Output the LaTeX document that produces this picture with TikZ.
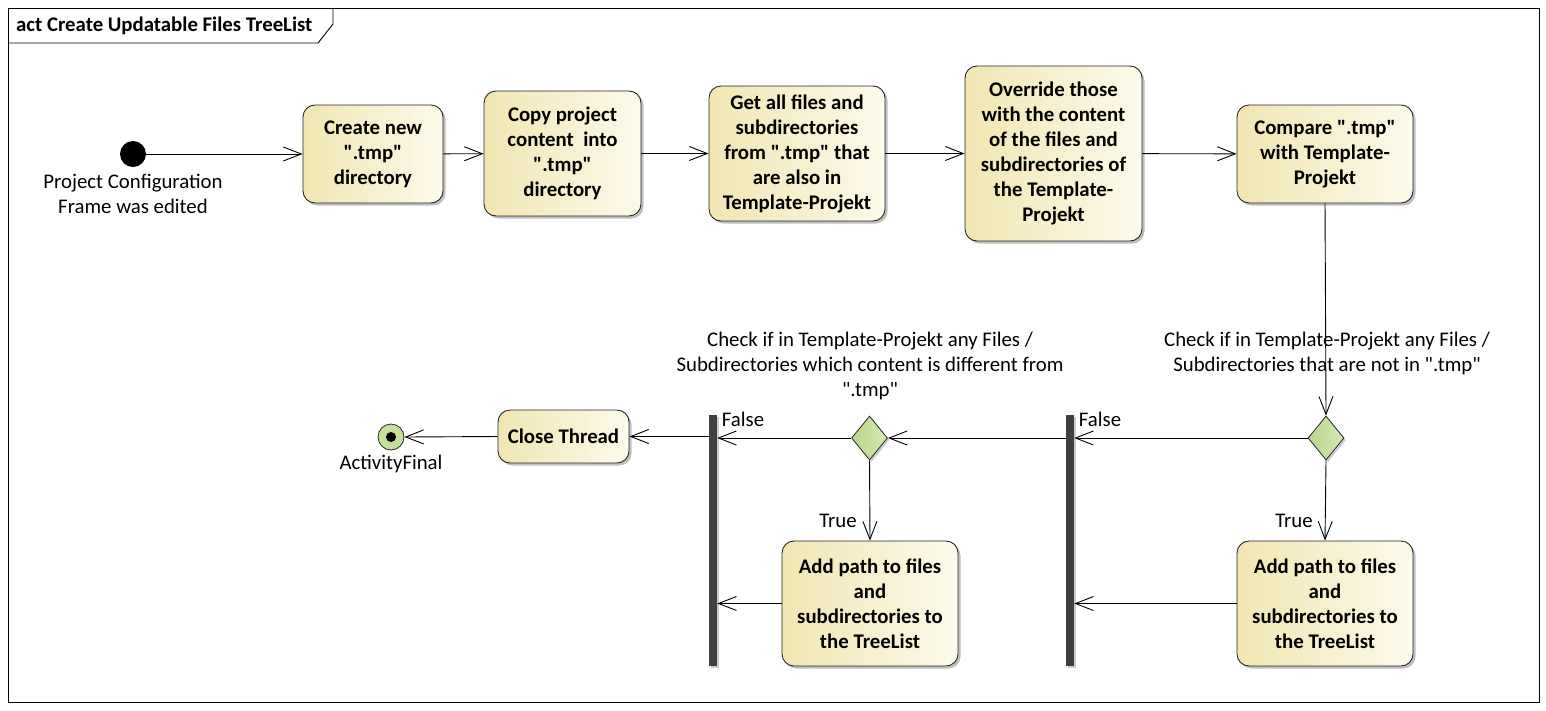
\documentclass[tikz,border=0pt]{standalone}
\usepackage{fontspec}
\setmainfont{Carlito}
\newfontfamily\carl{Carlito}
\usetikzlibrary{arrows.meta,shapes.geometric,shadows}
\definecolor{boxL}{RGB}{241,230,178}
\definecolor{boxR}{RGB}{252,250,235}
\definecolor{dmdL}{RGB}{186,213,138}
\definecolor{dmdR}{RGB}{214,232,180}
\definecolor{finalG}{RGB}{196,222,156}
\definecolor{barC}{RGB}{64,64,64}
\tikzset{
  act/.style={draw=black!85, line width=0.9pt, rounded corners=12pt, left color=boxL, right color=boxR,
    align=center, inner sep=0pt, font=\carl\bfseries\fontsize{20.8}{25}\selectfont,
    drop shadow={shadow xshift=2.5pt, shadow yshift=-2.5pt, opacity=0.25, fill=black}},
  dmd/.style={diamond, draw=black!85, line width=0.8pt, left color=dmdL, right color=dmdR, inner sep=0pt,
    minimum width=36pt, minimum height=44pt, aspect=0.8,
    drop shadow={shadow xshift=2pt, shadow yshift=-2pt, opacity=0.2, fill=black}},
  barnode/.style={fill=barC, draw=none, minimum width=8pt, minimum height=251pt, inner sep=0pt,
    drop shadow={shadow xshift=2pt, shadow yshift=-2pt, opacity=0.2, fill=black}},
  lbl/.style={align=center, font=\carl\fontsize{20.8}{25}\selectfont, inner sep=0pt},
  flow/.style={line width=0.9pt, -{Straight Barb[length=18pt,width=14pt,line width=0.9pt]}},
}
\begin{document}
\begin{tikzpicture}[x=1pt,y=-1pt]
\useasboundingbox (0,0) rectangle (1546,710);
% frame
\draw[line width=0.9pt] (8,8) rectangle (1539,702);
\draw[line width=0.9pt] (8,43) -- (318,43) -- (333,24) -- (333,8);
\node[anchor=west, font=\carl\bfseries\fontsize{20.8}{24}\selectfont, inner sep=0pt] (title) at (16,26) {act Create Updatable Files TreeList};

% start
\node[circle, fill=black, minimum size=26pt, inner sep=0pt] (start) at (133,154) {};
\node[lbl] (startlbl) at (133,194) {Project Configuration\\Frame was edited};

% top row
\node[act, minimum width=140pt, minimum height=98pt] (b1) at (373,154) {Create new\\".tmp"\\directory};
\node[act, minimum width=157pt, minimum height=125pt] (b2) at (562.5,153.5) {Copy project\\content\ \ into\\".tmp"\\directory};
\node[act, minimum width=176pt, minimum height=135pt] (b3) at (797,153.5) {Get all files and\\subdirectories\\from ".tmp" that\\are also in\\Template-Projekt};
\node[act, minimum width=177pt, minimum height=175pt] (b4) at (1053.5,153.5) {Override those\\with the content\\of the files and\\subdirectories of\\the Template-\\Projekt};
\node[act, minimum width=176pt, minimum height=98pt] (b5) at (1325,154) {Compare ".tmp"\\with Template-\\Projekt};

\draw[flow] (start) -- (b1);
\draw[flow] (b1) -- (b2);
\draw[flow] (b2) -- (b3);
\draw[flow] (b3) -- (b4);
\draw[flow] (b4) -- (b5);

% decision 1
\node[dmd] (d1) at (1326,438) {};
\node[lbl] (d1lbl) at (1327,353.5) {Check if in Template-Projekt any Files /\\Subdirectories that are not in ".tmp"};
\draw[flow] (b5.south) -- (d1.north);

\node[act, minimum width=176pt, minimum height=125pt] (b7) at (1325,603.5) {Add path to files\\and\\subdirectories to\\the TreeList};
\draw[flow] (d1.south) -- (b7.north);
\node[lbl] (t1) at (1294,521) {True};

\node[barnode] (bar2) at (1070,540.5) {};
\draw[flow] (d1.west) -- (d1.west -| bar2.east);
\node[lbl] (f1) at (1100,419) {False};
\draw[flow] (b7.west) -- (b7.west -| bar2.east);

% decision 2
\node[dmd] (d2) at (869.5,438) {};
\node[lbl] (d2lbl) at (870,366) {Check if in Template-Projekt any Files /\\Subdirectories which content is different from\\".tmp"};
\draw[flow] (bar2.west |- d2.east) -- (d2.east);

\node[act, minimum width=176pt, minimum height=125pt] (b6) at (870,603.5) {Add path to files\\and\\subdirectories to\\the TreeList};
\draw[flow] (d2.south) -- (b6.north);
\node[lbl] (t2) at (838,521) {True};

\node[barnode] (bar1) at (713,540.5) {};
\draw[flow] (d2.west) -- (d2.west -| bar1.east);
\node[lbl] (f2) at (743,419) {False};
\draw[flow] (b6.west) -- (b6.west -| bar1.east);

% close
\node[act, minimum width=131pt, minimum height=53pt] (close) at (563.5,436.5) {Close Thread};
\draw[flow] (bar1.west |- close.east) -- (close.east);

% final
\node[circle, draw=black!85, line width=0.8pt, fill=finalG, minimum size=26pt, inner sep=0pt] (fin) at (391,437) {};
\node[circle, fill=black, minimum size=10pt, inner sep=0pt] (finc) at (391,437) {};
\node[lbl] (finlbl) at (391,464) {ActivityFinal};
\draw[flow] (close.west) -- (fin.east);
\end{tikzpicture}
\end{document}
